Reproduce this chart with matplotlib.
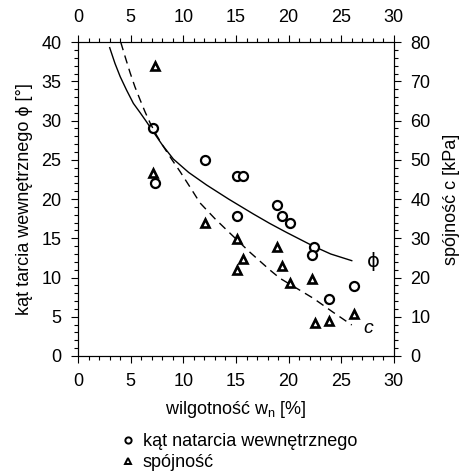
import matplotlib
matplotlib.use("Agg")
from matplotlib import pyplot as plt
from matplotlib.lines import Line2D

plt.rcParams['font.family'] = ['Liberation Sans', 'DejaVu Sans']

# measured points: moisture w_n [%] vs friction angle phi [deg]
w_phi = [7.1, 7.3, 12.1, 15.1, 15.7, 15.1, 18.9, 19.4, 20.1, 22.4, 22.2, 26.2, 23.8]
phi = [29.0, 22.0, 25.0, 23.0, 23.0, 17.9, 19.2, 17.9, 16.9, 13.9, 12.9, 8.9, 7.2]

# measured points: moisture w_n [%] vs cohesion c [kPa]
w_c = [7.3, 7.1, 12.1, 15.1, 15.7, 15.1, 18.9, 19.4, 20.1, 22.25, 22.5, 23.8, 26.2]
coh = [74.0, 46.6, 33.8, 29.9, 24.8, 21.8, 27.8, 22.9, 18.7, 19.7, 8.3, 8.9, 10.8]

# trend lines
trend_w_phi = [3.0, 3.5, 4.0, 4.6, 5.25, 5.9, 6.5, 7.0, 8.0, 9.05, 10.5, 12.2,
               14.3, 16.65, 18.2, 19.8, 22.35, 24.0, 26.0]
trend_phi = [39.3, 37.3, 35.6, 33.9, 32.2, 31.0, 29.85, 28.85, 26.9, 25.1, 23.4,
             21.8, 20.0, 18.1, 16.9, 15.75, 14.0, 13.0, 12.15]

trend_w_c = [4.05, 4.5, 4.94, 5.4, 5.89, 6.35, 6.84, 7.45, 8.1, 8.9, 9.69, 10.6,
             11.59, 13.0, 14.43, 16.3, 18.23, 19.18, 20.8, 22.35, 24.2, 26.0]
trend_c = [80.0, 76.0, 72.2, 68.6, 65.3, 62.3, 59.4, 56.3, 53.4, 50.1, 47.0, 43.2,
           39.0, 35.0, 31.3, 26.5, 21.9, 19.8, 17.2, 14.7, 11.2, 7.9]

fig = plt.figure(figsize=(4.65, 4.74), dpi=100)
ax = fig.add_axes([0.168, 0.249, 0.679, 0.662])
ax2 = ax.twinx()

ax.plot(trend_w_phi, trend_phi, color="black", lw=1.0)
ax2.plot(trend_w_c, trend_c, color="black", lw=1.0, dashes=(6, 4))

ax.plot(w_phi, phi, linestyle="none", marker="o", ms=6.5, mfc="white",
        mec="black", mew=1.6)
ax2.plot(w_c, coh, linestyle="none", marker="^", ms=6, mfc="white",
         mec="black", mew=1.9)

ax.text(27.4, 12.0, "ϕ", fontsize=14, family="DejaVu Sans",
        ha="left", va="center")
ax.text(27.1, 3.5, "c", fontsize=14, style="italic", ha="left", va="center")

ax.set_xlim(0, 30)
ax.set_ylim(0, 40)
ax2.set_ylim(0, 80)
ax.set_xticks(range(0, 31, 5))
ax.set_xticks(range(0, 31), minor=True)
ax.set_yticks(range(0, 41, 5))
ax.set_yticks(range(0, 41), minor=True)
ax2.set_yticks(range(0, 81, 10))
ax2.set_yticks(range(0, 81, 2), minor=True)

for a in (ax, ax2):
    a.tick_params(which="both", direction="out", labelsize=13, width=0.8, pad=7)
    a.tick_params(which="major", length=5)
    a.tick_params(which="minor", length=3)
ax.tick_params(which="both", top=True, labeltop=True)

ax.set_xlabel("wilgotność w$_\\mathregular{n}$ [%]", fontsize=13, labelpad=7)
ax.set_ylabel("kąt tarcia wewnętrznego ϕ [°]", fontsize=13, labelpad=6)
ax2.set_ylabel("spójność c [kPa]", fontsize=13, labelpad=9)

handles = [
    Line2D([], [], linestyle="none", marker="o", ms=4.5, mfc="white",
           mec="black", mew=1.4),
    Line2D([], [], linestyle="none", marker="^", ms=4.5, mfc="white",
           mec="black", mew=1.4),
]
fig.legend(handles, ["kąt natarcia wewnętrznego", "spójność"],
           loc="center", bbox_to_anchor=(0.516, 0.046), frameon=False,
           fontsize=13, handlelength=0.6, handletextpad=0.5,
           labelspacing=0.25, borderpad=0)

fig.savefig("out.png", dpi=100)
